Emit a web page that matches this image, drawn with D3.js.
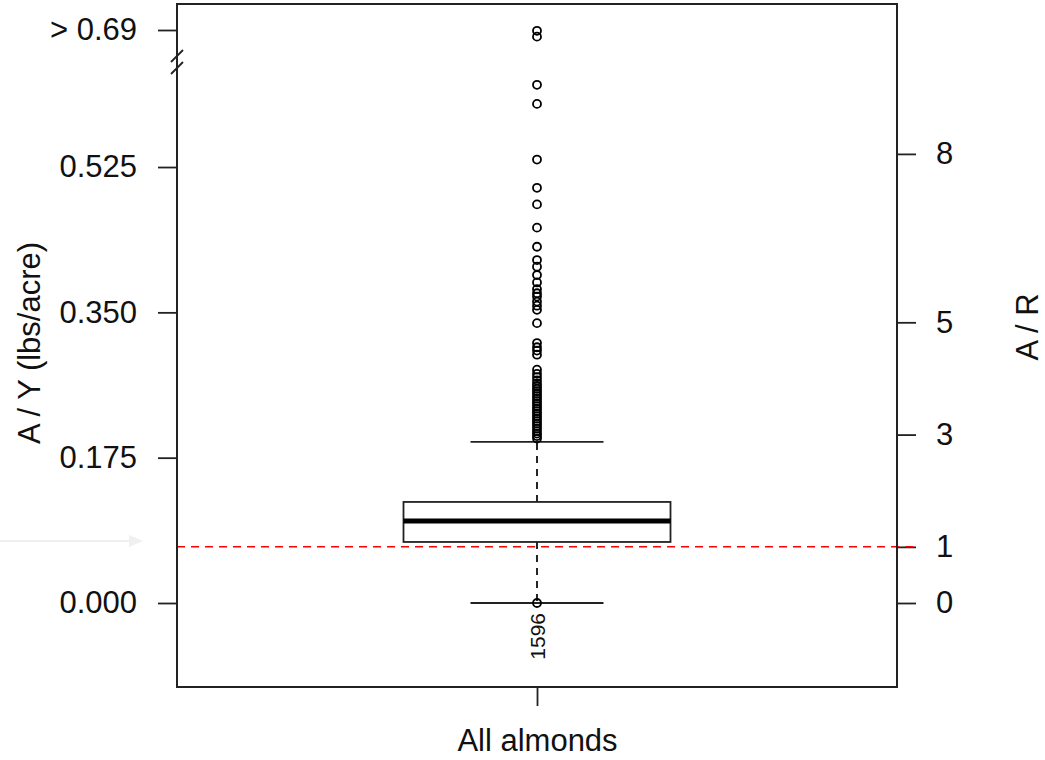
<!DOCTYPE html>
<html><head><meta charset="utf-8">
<script src="https://cdn.jsdelivr.net/npm/d3@7/dist/d3.min.js"></script>
<style>body{margin:0;background:#fff;font-family:"Liberation Sans",Arial,sans-serif;}</style>
</head><body><svg id="c" width="1045" height="760"></svg>
<script>
const categories = ["All almonds"];
const q1 = [0.0735];
const median = [0.0988];
const q3 = [0.1217];
const whiskerLow = [0.0];
const whiskerHigh = [0.194];
const outliers = [0.689, 0.682, 0.624, 0.601, 0.534, 0.500, 0.480, 0.452, 0.429, 0.413, 0.405, 0.395, 0.386, 0.378, 0.373, 0.369, 0.363, 0.358, 0.353, 0.337, 0.313, 0.308, 0.304, 0.299, 0.281, 0.276, 0.272, 0.268, 0.264, 0.261, 0.258, 0.255, 0.252, 0.249, 0.246, 0.243, 0.240, 0.237, 0.234, 0.231, 0.228, 0.225, 0.222, 0.219, 0.216, 0.213, 0.210, 0.207, 0.204, 0.201, 0.198, 0.0];
const lowOutlierLabel = "1596";
const leftTicks = [0, 0.175, 0.35, 0.525, 0.69];
const leftTickLabels = ["0.000", "0.175", "0.350", "0.525", "> 0.69"];
const rightTicks = [0, 1, 3, 5, 8];
const ratioR = 0.0676;
const refLine = [1];
const leftTitle = "A / Y (lbs/acre)";
const rightTitle = "A / R";

const svg = d3.select("#c");
const L = 177, R = 897, T = 4, B = 687;
const FS = 31;
const y = d3.scaleLinear().domain([0, 0.69]).range([603, 30]);
const yR = d3.scaleLinear().domain([0, 8]).range([y(0), y(8 * ratioR)]);
const x = d3.scalePoint().domain(categories).range([L, R]).padding(0.5);
const font = "Liberation Sans, Arial, sans-serif";

svg.append("rect").attr("width", 1045).attr("height", 760).attr("fill", "#fff");

// faint arrow artifact
svg.append("line").attr("x1", 0).attr("x2", 135).attr("y1", 541).attr("y2", 541).attr("stroke", "#f0f0f0").attr("stroke-width", 2);
svg.append("path").attr("d", "M129,535 L143,541 L129,547 Z").attr("fill", "#f0f0f0");

// left axis
const gl = svg.append("g").attr("transform", `translate(${L},0)`)
  .call(d3.axisLeft(y).tickValues(leftTicks).tickFormat((d, i) => leftTickLabels[i]).tickSize(19).tickPadding(21));
gl.select(".domain").remove();
gl.selectAll("line").attr("stroke", "#222").attr("stroke-width", 1.8);
gl.selectAll("text").attr("font-size", FS).attr("font-family", font).attr("fill", "#111");

// right axis
const gr = svg.append("g").attr("transform", `translate(${R},0)`)
  .call(d3.axisRight(yR).tickValues(rightTicks).tickFormat(d3.format("d")).tickSize(19).tickPadding(20));
gr.select(".domain").remove();
gr.selectAll("line").attr("stroke", "#222").attr("stroke-width", 1.8);
gr.selectAll("text").attr("font-size", FS).attr("font-family", font).attr("fill", "#111");

// bottom axis
const gb = svg.append("g").attr("transform", `translate(0,${B})`)
  .call(d3.axisBottom(x).tickSize(19).tickPadding(23));
gb.select(".domain").remove();
gb.selectAll("line").attr("stroke", "#222").attr("stroke-width", 1.8);
gb.selectAll("text").attr("font-size", FS).attr("font-family", font).attr("fill", "#111");

// reference line
svg.selectAll(".ref").data(refLine).enter().append("line")
  .attr("x1", L).attr("x2", R + 20).attr("y1", d => yR(d)).attr("y2", d => yR(d))
  .attr("stroke", "#ff0000").attr("stroke-width", 1.5).attr("stroke-dasharray", "8,6");

// box plot
const bw = 267, cw = 133;
categories.forEach((c, i) => {
  const cx = x(c);
  svg.append("line").attr("x1", cx).attr("x2", cx).attr("y1", y(q3[i])).attr("y2", y(whiskerHigh[i]))
    .attr("stroke", "#000").attr("stroke-width", 1.7).attr("stroke-dasharray", "7,6");
  svg.append("line").attr("x1", cx).attr("x2", cx).attr("y1", y(q1[i])).attr("y2", y(whiskerLow[i]))
    .attr("stroke", "#000").attr("stroke-width", 1.7).attr("stroke-dasharray", "7,6");
  [whiskerHigh[i], whiskerLow[i]].forEach(v => {
    svg.append("line").attr("x1", cx - cw / 2).attr("x2", cx + cw / 2).attr("y1", y(v)).attr("y2", y(v))
      .attr("stroke", "#222").attr("stroke-width", 1.8);
  });
  svg.append("rect").attr("x", cx - bw / 2).attr("width", bw).attr("y", y(q3[i])).attr("height", y(q1[i]) - y(q3[i]))
    .attr("fill", "#fff").attr("stroke", "#222").attr("stroke-width", 1.8);
  svg.append("line").attr("x1", cx - bw / 2).attr("x2", cx + bw / 2).attr("y1", y(median[i])).attr("y2", y(median[i]))
    .attr("stroke", "#000").attr("stroke-width", 5);
  svg.selectAll(".out" + i).data(outliers).enter().append("circle")
    .attr("cx", cx).attr("cy", d => y(d)).attr("r", 4)
    .attr("fill", "none").attr("stroke", "#000").attr("stroke-width", 1.8);
  svg.append("text").attr("transform", `translate(${cx + 8},${y(0) + 10}) rotate(-90)`)
    .attr("text-anchor", "end").attr("font-size", 21).attr("font-family", font).attr("fill", "#111")
    .text(lowOutlierLabel);
});

// frame
svg.append("rect").attr("x", L).attr("y", T).attr("width", R - L).attr("height", B - T)
  .attr("fill", "none").attr("stroke", "#222").attr("stroke-width", 2);

// axis break marks
[56, 68].forEach(yy => {
  svg.append("line").attr("x1", L - 6).attr("x2", L + 6).attr("y1", yy + 6).attr("y2", yy - 6)
    .attr("stroke", "#222").attr("stroke-width", 1.8);
});

// titles
svg.append("text").attr("transform", `translate(40,343) rotate(-90)`).attr("text-anchor", "middle")
  .attr("font-size", FS).attr("font-family", font).attr("fill", "#111").text(leftTitle);
svg.append("text").attr("transform", `translate(1038,327) rotate(-90)`).attr("text-anchor", "middle")
  .attr("font-size", FS).attr("font-family", font).attr("fill", "#111").text(rightTitle);
</script></body></html>
